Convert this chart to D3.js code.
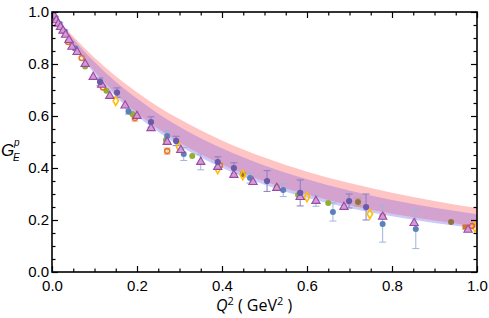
<!DOCTYPE html>
<html>
<head>
<meta charset="utf-8">
<script src="https://cdn.jsdelivr.net/npm/d3@7"></script>
<style>
body { margin: 0; background: #fff; }
text { font-family: "Liberation Sans", Arial, sans-serif; }
</style>
</head>
<body>
<svg id="chart" width="489" height="318"></svg>
<script>
// band samples
var bandQ2   = [0, 0.025, 0.05, 0.1, 0.15, 0.2, 0.25, 0.3, 0.4, 0.5, 0.6, 0.7, 0.8, 0.9, 1.0];
var pinkHi   = [1, 0.951, 0.906, 0.824, 0.753, 0.691, 0.636, 0.588, 0.506, 0.440, 0.386, 0.342, 0.305, 0.273, 0.246];
var pinkLo   = [1, 0.934, 0.874, 0.771, 0.685, 0.612, 0.551, 0.498, 0.413, 0.348, 0.298, 0.257, 0.224, 0.198, 0.175];
var blueHi   = [1, 0.946, 0.896, 0.808, 0.732, 0.667, 0.609, 0.559, 0.476, 0.410, 0.357, 0.313, 0.277, 0.247, 0.222];
var blueLo   = [1, 0.932, 0.869, 0.763, 0.675, 0.601, 0.539, 0.486, 0.401, 0.336, 0.286, 0.246, 0.214, 0.188, 0.167];

// data points [Q2, GE, err]
var triPts = [[0.005,0.985],[0.01,0.968],[0.015,0.955],[0.02,0.942],[0.026,0.928],[0.032,0.912],[0.04,0.892],
  [0.047,0.866],[0.059,0.846],[0.078,0.80],[0.097,0.75],[0.117,0.72],[0.136,0.677],[0.172,0.64],[0.2,0.6],
  [0.233,0.553],[0.271,0.5],[0.303,0.469],[0.35,0.423,0.03],[0.39,0.404],[0.428,0.373],[0.473,0.346],
  [0.529,0.323],[0.584,0.288],[0.621,0.273,0.02],[0.687,0.25],[0.778,0.212],[0.852,0.188],[0.979,0.162]];
var bluePts = [[0.008,0.978,0.005],[0.018,0.955,0.005],[0.03,0.925,0.006],[0.055,0.86,0.008],
  [0.18,0.617,0.01],[0.271,0.523,0.02],[0.31,0.454,0.025],[0.466,0.362,0.02],[0.544,0.315,0.025],
  [0.661,0.231,0.035],[0.778,0.185,0.07],[0.856,0.165,0.075]];
var purplePts = [[0.113,0.731,0.015],[0.153,0.69,0.018],[0.233,0.577,0.02],[0.292,0.504,0.018],
  [0.39,0.423,0.02],[0.428,0.4,0.02],[0.506,0.35,0.04],[0.584,0.304,0.05],[0.699,0.273,0.027],[0.739,0.25,0.05]];
var orangePts = [[0.038,0.885],[0.07,0.823],[0.12,0.71],[0.195,0.592,0.012],[0.271,0.465,0.012],[0.395,0.41]];
var yellowPts = [[0.15,0.658],[0.299,0.481],[0.39,0.396],[0.449,0.373],[0.6,0.288],[0.748,0.223],[0.995,0.172]];
var greenPts = [[0.078,0.79],[0.128,0.697],[0.189,0.608],[0.268,0.508],[0.33,0.446],[0.529,0.327],[0.579,0.296],[0.65,0.265]];
var brownPts = [[0.449,0.376],[0.72,0.269,0.015],[0.939,0.192]];
var redPts = [[0.778,0.215],[0.988,0.177]];
var squarePts = [[0.972,0.173]];

var xTicks = [0, 0.2, 0.4, 0.6, 0.8, 1.0];
var yTicks = [0, 0.2, 0.4, 0.6, 0.8, 1.0];

var W = 489, H = 318;
var m = {left: 52, right: 12, top: 12, bottom: 46};
var svg = d3.select("#chart");

var x = d3.scaleLinear().domain([0, 1]).range([m.left, W - m.right]);
var y = d3.scaleLinear().domain([0, 1]).range([H - m.bottom, m.top]);

var plot = svg.append("g");
plot.append("defs").append("clipPath").attr("id", "clip")
  .append("rect").attr("x", m.left).attr("y", m.top)
  .attr("width", W - m.left - m.right).attr("height", H - m.top - m.bottom);

var bands = plot.append("g").attr("clip-path", "url(#clip)");

function band(lo, hi, color) {
  var area = d3.area()
    .x(function(d, i) { return x(bandQ2[i]); })
    .y0(function(d, i) { return y(lo[i]); })
    .y1(function(d, i) { return y(hi[i]); })
    .curve(d3.curveMonotoneX);
  bands.append("path")
    .datum(bandQ2)
    .attr("d", area)
    .attr("fill", color);
}
// overlap of the two bands
var overLo = bandQ2.map(function(d, i) { return Math.max(pinkLo[i], blueLo[i]); });
var overHi = bandQ2.map(function(d, i) { return Math.min(pinkHi[i], blueHi[i]); });
band(blueLo, blueHi, "#c9c9fc");
band(pinkLo, pinkHi, "#ffc5c5");
band(overLo, overHi, "#d4a2cf");

var marks = plot.append("g").attr("clip-path", "url(#clip)");

function errBars(pts, color) {
  pts.filter(function(d) { return d[2]; }).forEach(function(d) {
    var g = marks.append("g").attr("stroke", color).attr("stroke-width", 1);
    g.append("line").attr("x1", x(d[0])).attr("x2", x(d[0]))
      .attr("y1", y(d[1] - d[2])).attr("y2", y(d[1] + d[2]));
    g.append("line").attr("x1", x(d[0]) - 3.5).attr("x2", x(d[0]) + 3.5)
      .attr("y1", y(d[1] - d[2])).attr("y2", y(d[1] - d[2]));
    g.append("line").attr("x1", x(d[0]) - 3.5).attr("x2", x(d[0]) + 3.5)
      .attr("y1", y(d[1] + d[2])).attr("y2", y(d[1] + d[2]));
  });
}

function points(pts, type, size, fill, stroke, sw) {
  marks.selectAll(null).data(pts).enter().append("path")
    .attr("d", d3.symbol().type(type).size(size))
    .attr("transform", function(d) { return "translate(" + x(d[0]) + "," + y(d[1]) + ")"; })
    .attr("fill", fill)
    .attr("stroke", stroke)
    .attr("stroke-width", sw);
}

errBars(bluePts, "#9fb4da");
errBars(purplePts, "#8a7dc0");
errBars(triPts, "#9fb4da");
errBars(orangePts, "#f0b890");
errBars(brownPts, "#c0a070");

points(greenPts, d3.symbolCircle, 28, "#8fb032", "none", 0);
points(bluePts, d3.symbolCircle, 28, "#5b80bd", "none", 0);
points(brownPts, d3.symbolCircle, 28, "#8f7440", "none", 0);
points(squarePts, d3.symbolSquare, 28, "#d0782a", "none", 0);
points(orangePts, d3.symbolCircle, 20, "none", "#e07a28", 1.6);
points(yellowPts, d3.symbolDiamond, 24, "none", "#ffbf00", 1.6);
points(redPts, d3.symbolCircle, 20, "none", "#e8553a", 1.5);
points(triPts, d3.symbolTriangle, 30, "#d49ad6", "#9a4aa2", 1.1);
points(purplePts, d3.symbolCircle, 30, "#6a5aa8", "none", 0);

// frame and ticks
var frame = svg.append("g");
function axis(gen, tx, ty, vals, size, labels) {
  var g = frame.append("g").attr("transform", "translate(" + tx + "," + ty + ")")
    .call(gen.tickValues(vals).tickSize(size).tickSizeOuter(0)
      .tickFormat(labels ? d3.format(".1f") : ""));
  g.select(".domain").remove();
  g.selectAll("line").attr("stroke", "#000").attr("stroke-width", 1.2);
  g.selectAll("text").attr("fill", "#000").style("font-size", "15px");
  return g;
}
var minor = d3.range(0, 1.0001, 0.05).filter(function(v) { return Math.abs(v * 5 - Math.round(v * 5)) > 1e-6; });

var bx = axis(d3.axisBottom(x), 0, H - m.bottom, xTicks, -6, true);
bx.selectAll("text").attr("y", 8).attr("dy", "0.71em");
axis(d3.axisBottom(x), 0, H - m.bottom, minor, -3.5, false);
axis(d3.axisTop(x), 0, m.top, xTicks, -6, false);
axis(d3.axisTop(x), 0, m.top, minor, -3.5, false);
var ly = axis(d3.axisLeft(y), m.left, 0, yTicks, -6, true);
ly.selectAll("text").attr("x", -3);
axis(d3.axisLeft(y), m.left, 0, minor, -3.5, false);
axis(d3.axisRight(y), W - m.right, 0, yTicks, -6, false);
axis(d3.axisRight(y), W - m.right, 0, minor, -3.5, false);

frame.append("rect")
  .attr("x", m.left).attr("y", m.top)
  .attr("width", W - m.left - m.right).attr("height", H - m.top - m.bottom)
  .attr("fill", "none").attr("stroke", "#000").attr("stroke-width", 1.6);

// axis titles
var xt = svg.append("text").attr("x", 254).attr("y", 311).attr("text-anchor", "middle")
  .style("font-size", "16px").style("font-family", "'Open Sans', sans-serif");
xt.append("tspan").style("font-style", "italic").text("Q");
xt.append("tspan").attr("dy", -6).style("font-size", "11px").text("2");
xt.append("tspan").attr("dy", 6).text(" ( GeV");
xt.append("tspan").attr("dy", -6).style("font-size", "11px").text("2");
xt.append("tspan").attr("dy", 6).text(" )");

var ytitle = svg.append("g").style("font-family", "'Open Sans', sans-serif").style("font-style", "italic");
ytitle.append("text").attr("x", 1).attr("y", 156).style("font-size", "17px").text("G");
ytitle.append("text").attr("x", 13).attr("y", 161).style("font-size", "10px").text("E");
ytitle.append("text").attr("x", 14).attr("y", 146).style("font-size", "10px").text("p");
</script>
</body>
</html>
